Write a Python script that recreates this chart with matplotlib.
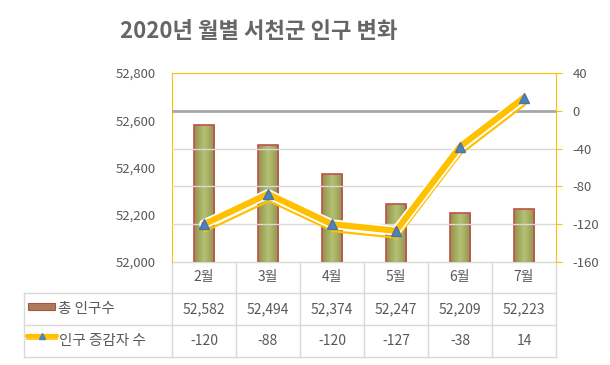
import matplotlib
matplotlib.use('Agg')
import matplotlib.pyplot as plt
import matplotlib.transforms as mtransforms
from matplotlib.colors import LinearSegmentedColormap
import numpy as np

plt.rcParams['font.family'] = ['Noto Sans CJK KR', 'DejaVu Sans']
plt.rcParams['axes.unicode_minus'] = False

title = '2020년 월별 서천군 인구 변화'
months = ['2월', '3월', '4월', '5월', '6월', '7월']
population = [52582, 52494, 52374, 52247, 52209, 52223]
change = [-120, -88, -120, -127, -38, 14]
series_names = ['총 인구수', '인구 증감자 수']

gold = '#ffc000'
txt = '#595959'
grid_c = '#d9d9d9'

W, H = 610, 365
fig = plt.figure(figsize=(W / 100, H / 100), dpi=100)
fig.patch.set_facecolor('white')

# plot area in pixels
x0, x1, y0, y1 = 172, 556, 73, 262
ax = fig.add_axes([x0 / W, 1 - y1 / H, (x1 - x0) / W, (y1 - y0) / H])
ax2 = ax.twinx()

x = np.arange(len(months))
ax.set_yticks(np.arange(52000, 52801, 200))
ax.set_yticklabels([f'{v:,}' for v in range(52000, 52801, 200)])
ax2.set_ylim(-160, 40)
ax2.set_yticks(np.arange(-160, 41, 40))

# grid following the secondary axis
for v in range(-120, 40, 40):
    ax2.axhline(v, color='#a6a6a6' if v == 0 else grid_c,
                lw=2 if v == 0 else 1, zorder=0)

bars = ax.bar(x, population, width=0.32, color='none',
              edgecolor='#c0504d', lw=1.2, zorder=2)
cmap = LinearSegmentedColormap.from_list('g', ['#93914c', '#b4c273', '#93914c'])
grad = np.linspace(0, 1, 64).reshape(1, -1)
for b in bars:
    bx, bw, bh = b.get_x(), b.get_width(), b.get_height()
    im = ax.imshow(grad, cmap=cmap, aspect='auto', zorder=1.5,
                   extent=[bx, bx + bw, 52000, bh], origin='lower')
    im.set_clip_path(b)
ax.set_ylim(52000, 52800)
ax.set_xlim(-0.5, len(months) - 0.5)

# line with offset thin shadow
shift = mtransforms.offset_copy(ax2.transData, fig=fig, x=1, y=-7, units='dots')
ax2.plot(x, change, color=gold, lw=1.6, transform=shift, zorder=3)
ax2.plot(x, change, color='white', lw=7, solid_capstyle='round', zorder=3.5)
ax2.plot(x, change, color=gold, lw=4.5, solid_capstyle='round', zorder=4)
ax2.plot(x, change, ls='none', marker='^', ms=7.5, color='#4f81bd',
         markeredgecolor='#4a74a8', zorder=5)

ax.set_xticks([])
for a in (ax, ax2):
    for s in a.spines.values():
        s.set_visible(False)
ax.spines['left'].set_visible(True)
ax.spines['left'].set_color(gold)
ax.spines['top'].set_visible(True)
ax.spines['top'].set_color(gold)
ax2.spines['right'].set_visible(True)
ax2.spines['right'].set_color(gold)
ax.tick_params(axis='y', length=0, labelsize=9.5, labelcolor=txt, pad=12)
ax2.tick_params(axis='y', length=4, color=gold, labelsize=9.5, labelcolor=txt, pad=8)
ax.axhline(52000, color=grid_c, lw=1, zorder=0)

# title
fig.text(259 / W, 1 - 31 / H, title, ha='center', va='center', fontsize=16,
         fontweight='bold', color='#666666')

# data table
tab = fig.add_axes([0, 0, 1, 1], zorder=-1)
tab.set_xlim(0, W)
tab.set_ylim(H, 0)
tab.axis('off')
cw = (x1 - x0) / len(months)
rows = [262, 293, 325, 357]
lx = 24
for i in range(len(months) + 1):
    tab.plot([x0 + i * cw] * 2, [rows[0] - 4 if 0 < i < len(months) else rows[0], rows[-1]],
             color=grid_c, lw=1)
tab.plot([lx, lx], [rows[1], rows[-1]], color=grid_c, lw=1)
tab.plot([x0, x1], [rows[0], rows[0]], color=grid_c, lw=1)
for r in rows[1:]:
    tab.plot([lx, x1], [r, r], color=grid_c, lw=1)
for i, m in enumerate(months):
    cx = x0 + (i + 0.5) * cw
    tab.text(cx, (rows[0] + rows[1]) / 2, m, ha='center', va='center', fontsize=10, color=txt)
    tab.text(cx, (rows[1] + rows[2]) / 2, f'{population[i]:,}', ha='center', va='center',
             fontsize=10, color=txt)
    tab.text(cx, (rows[2] + rows[3]) / 2, f'{change[i]}', ha='center', va='center',
             fontsize=10, color=txt)

# legend keys
tab.add_patch(plt.Rectangle((28, 303), 27, 7, facecolor='#b07a5a', edgecolor='#a05a40', lw=0.8))
tab.text(58, (rows[1] + rows[2]) / 2, series_names[0], ha='left', va='center', fontsize=10.5, color=txt)
tab.plot([27, 57], [339, 339], color=gold, lw=1.2)
tab.plot([27, 57], [336, 336], color=gold, lw=3, solid_capstyle='round')
tab.plot([42], [335.5], marker='^', ms=5, color='#4f81bd')
tab.text(59, (rows[2] + rows[3]) / 2, series_names[1], ha='left', va='center', fontsize=10.5, color=txt)

fig.savefig('out.png', dpi=100)
